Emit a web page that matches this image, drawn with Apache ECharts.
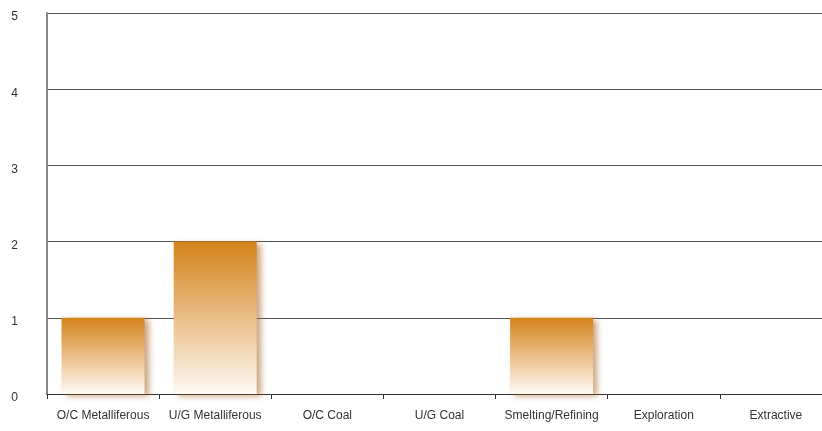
<!DOCTYPE html>
<html>
<head>
<meta charset="utf-8">
<script src="https://cdn.jsdelivr.net/npm/echarts@6/dist/echarts.min.js"></script>
<style>html,body{margin:0;padding:0;background:#fff;}#c{width:822px;height:431px;}</style>
</head>
<body>
<div id="c"></div>
<script>
var categories = ['O/C Metalliferous','U/G Metalliferous','O/C Coal','U/G Coal','Smelting/Refining','Exploration','Extractive'];
var values = [1, 2, 0, 0, 1, 0, 0];
var yTicks = [0, 1, 2, 3, 4, 5];

var chart = echarts.init(document.getElementById('c'));
chart.setOption({
  animation: false,
  backgroundColor: '#ffffff',
  grid: { left: 47, top: 13, width: 785, bottom: 37, containLabel: false, outerBoundsMode: 'none' },
  xAxis: {
    type: 'category',
    data: categories,
    axisLine: { lineStyle: { color: '#333', width: 1 } },
    axisTick: { show: true, alignWithLabel: false, length: 5, lineStyle: { color: '#333' } },
    axisLabel: { color: '#333', fontSize: 12, fontFamily: 'Liberation Sans, Arial, sans-serif', margin: 16, interval: 0 },
    splitLine: { show: false }
  },
  yAxis: {
    type: 'value',
    min: yTicks[0],
    max: yTicks[yTicks.length - 1],
    interval: 1,
    axisLine: { show: true, lineStyle: { color: '#888', width: 2 } },
    axisTick: { show: false },
    axisLabel: { color: '#333', fontSize: 12, fontFamily: 'Liberation Sans, Arial, sans-serif', margin: 29, verticalAlign: 'top', lineHeight: 8 },
    splitLine: { show: true, lineStyle: { color: '#555', width: 1 } }
  },
  series: [{
    type: 'bar',
    data: values,
    barWidth: 83,
    itemStyle: {
      color: new echarts.graphic.LinearGradient(0, 0, 0, 1, [
        { offset: 0, color: '#d4821a' },
        { offset: 1, color: '#fffaf5' }
      ]),
      shadowColor: 'rgba(160, 90, 20, 0.55)',
      shadowBlur: 6,
      shadowOffsetX: 4,
      shadowOffsetY: 2
    }
  }]
});
</script>
</body>
</html>
